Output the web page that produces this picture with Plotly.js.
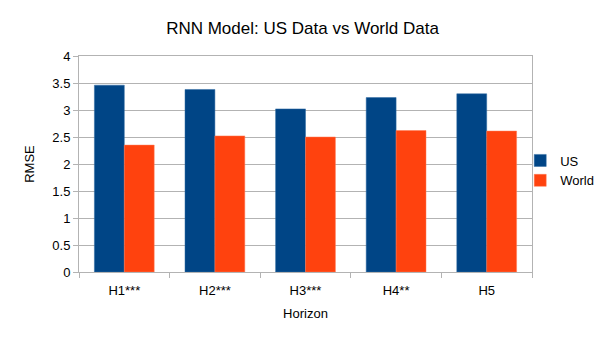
<!DOCTYPE html>
<html>
<head>
<meta charset="utf-8">
<script src="https://cdn.plot.ly/plotly-3.0.1.min.js"></script>
<style>
  html, body { margin: 0; padding: 0; background: #fff; }
  #chart { width: 605px; height: 340px; }
</style>
</head>
<body>
<div id="chart"></div>
<script>
const horizons = ["H1***", "H2***", "H3***", "H4**", "H5"];
const usRmse = [3.46, 3.38, 3.02, 3.23, 3.30];
const worldRmse = [2.35, 2.52, 2.50, 2.62, 2.61];

const font = "Liberation Sans, Arial, sans-serif";
const grey = "#b3b3b3";

const traces = [
  {
    type: "bar",
    name: "US",
    x: horizons,
    y: usRmse,
    marker: { color: "#004586", line: { color: "#2f6aa3", width: 0.5 } },
  },
  {
    type: "bar",
    name: "World",
    x: horizons,
    y: worldRmse,
    marker: { color: "#ff420e", line: { color: "#ff7a55", width: 0.5 } },
  },
];

const layout = {
  width: 605,
  height: 340,
  paper_bgcolor: "#fff",
  plot_bgcolor: "#fff",
  font: { family: font, size: 13, color: "#000" },
  title: {
    text: "RNN Model: US Data vs World Data",
    font: { family: font, size: 17, color: "#000" },
    x: 0.5,
    xanchor: "center",
    y: 0.918,
    yanchor: "middle",
  },
  barmode: "group",
  bargap: 0.34,
  bargroupgap: 0,
  margin: { l: 79, r: 73, t: 56, b: 68, autoexpand: false },
  xaxis: {
    title: { text: "Horizon", font: { family: font, size: 13 }, standoff: 12 },
    showline: true,
    mirror: true,
    linecolor: grey,
    linewidth: 1,
    ticks: "outside",
    tickson: "boundaries",
    ticklen: 5,
    tickcolor: grey,
    ticklabelstandoff: 6,
    showgrid: false,
    tickfont: { family: font, size: 13 },
  },
  yaxis: {
    title: { text: "RMSE", font: { family: font, size: 13 }, standoff: 14 },
    range: [0, 4],
    dtick: 0.5,
    showline: true,
    mirror: true,
    linecolor: grey,
    linewidth: 1,
    gridcolor: grey,
    gridwidth: 1,
    zeroline: false,
    ticks: "outside",
    ticklen: 5,
    tickcolor: grey,
    tickfont: { family: font, size: 13 },
  },
  legend: {
    x: 0.974,
    xanchor: "left",
    y: 0.47,
    yanchor: "middle",
    bgcolor: "rgba(0,0,0,0)",
    font: { family: font, size: 13 },
    itemwidth: 30,
  },
  showlegend: true,
};

Plotly.newPlot("chart", traces, layout, { displayModeBar: false, staticPlot: true });
</script>
</body>
</html>
